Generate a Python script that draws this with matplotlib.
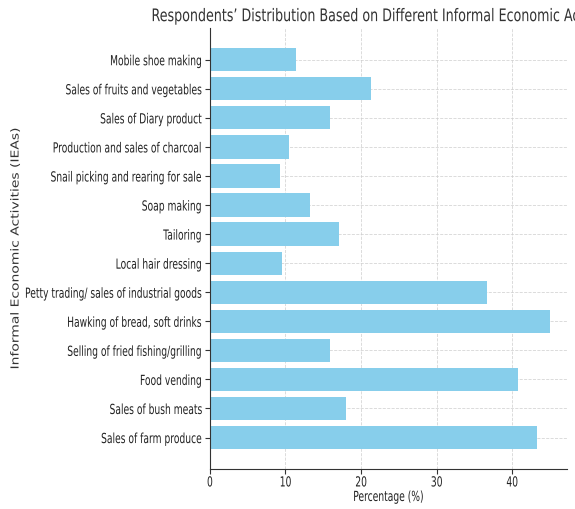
import matplotlib
matplotlib.use("Agg")
import matplotlib.pyplot as plt
from matplotlib import patheffects
from matplotlib.transforms import Affine2D


activities = [
    "Sales of farm produce",
    "Sales of bush meats",
    "Food vending",
    "Selling of fried fishing/grilling",
    "Hawking of bread, soft drinks",
    "Petty trading/ sales of industrial goods",
    "Local hair dressing",
    "Tailoring",
    "Soap making",
    "Snail picking and rearing for sale",
    "Production and sales of charcoal",
    "Sales of Diary product",
    "Sales of fruits and vegetables",
    "Mobile shoe making",
]
percentages = [43.3, 18.0, 40.8, 15.9, 45.0, 36.7, 9.6, 17.1, 13.3, 9.3, 10.5, 15.9, 21.3, 11.4]
x_ticks = [0, 10, 20, 30, 40]

title = "Respondents\u2019 Distribution Based on Different Informal Economic Activities"
xlabel = "Percentage (%)"
ylabel = "Informal Economic Activities (IEAs)"

TEXT_COLOR = "#222222"
SQUEEZE = 0.66


class Squeeze(patheffects.AbstractPathEffect):
    """Narrow the glyphs horizontally, keeping one edge (or the centre) fixed."""

    def __init__(self, sx=SQUEEZE, anchor="center"):
        super().__init__()
        self.sx = sx
        self.anchor = anchor

    def draw_path(self, renderer, gc, tpath, affine, rgbFace=None):
        ext = tpath.get_extents(affine)
        if self.anchor == "right":
            x0 = ext.x1
        elif self.anchor == "left":
            x0 = ext.x0
        else:
            x0 = 0.5 * (ext.x0 + ext.x1)
        squeeze = Affine2D().translate(-x0, 0).scale(self.sx, 1).translate(x0, 0)
        renderer.draw_path(gc, tpath, affine + squeeze, rgbFace)


plt.rcParams["font.family"] = ["DejaVu Sans"]

fig, ax = plt.subplots(figsize=(5.75, 5.1), dpi=100)
fig.subplots_adjust(left=0.365, right=0.986, bottom=0.078, top=0.943)

ax.barh(activities, percentages, color="skyblue")
ax.set_xticks(x_ticks)

t = ax.set_title(title, fontsize=12.5, color="#333333", pad=5)
t.set_path_effects([Squeeze(0.73)])

xl = ax.set_xlabel(xlabel, fontsize=10, color=TEXT_COLOR)
xl.set_path_effects([Squeeze()])
ax.xaxis.set_label_coords(0.5, -0.047)

yl = ax.set_ylabel(ylabel, fontsize=10, color="#333333")
yl.set_path_effects([Squeeze(0.8)])
ax.yaxis.set_label_coords(-0.525, 0.5)

for lbl in ax.get_yticklabels():
    lbl.set_fontsize(10)
    lbl.set_color(TEXT_COLOR)
    lbl.set_path_effects([Squeeze(anchor="right")])
for lbl in ax.get_xticklabels():
    lbl.set_fontsize(10)
    lbl.set_color(TEXT_COLOR)
    lbl.set_path_effects([Squeeze()])

ax.grid(True, linestyle="--", color="#cccccc", linewidth=0.6, alpha=0.8)
ax.set_axisbelow(True)
ax.spines["top"].set_visible(False)
ax.spines["right"].set_visible(False)
ax.spines["left"].set_color("#333333")
ax.spines["bottom"].set_color("#333333")
ax.tick_params(length=3.5, color="#333333")
ax.tick_params(axis="x", pad=1)
ax.tick_params(axis="y", pad=2)

fig.savefig("out.png", dpi=100)
